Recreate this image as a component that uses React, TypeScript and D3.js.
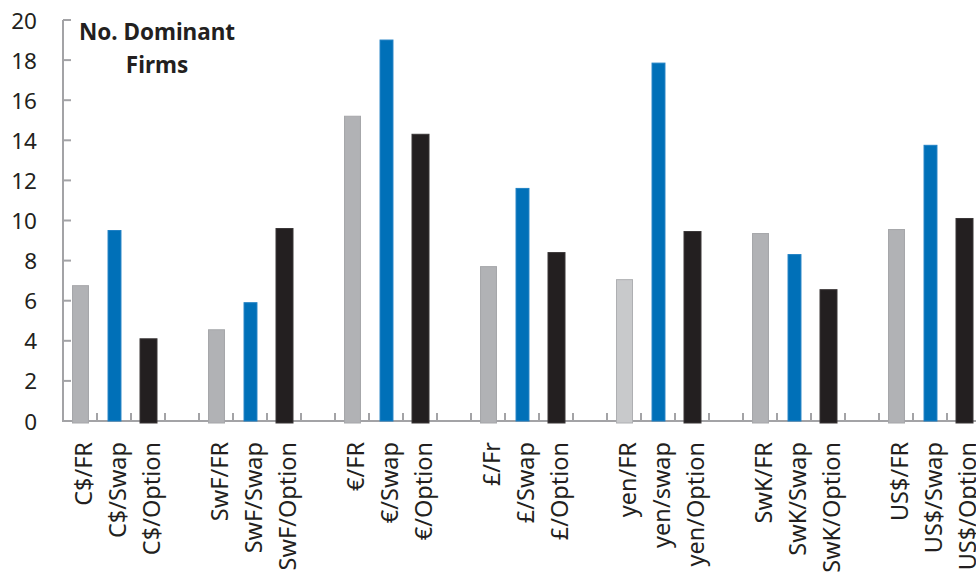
import React from 'react';
import * as d3 from 'd3';

const frLabels = ['C$/FR', 'SwF/FR', '€/FR', '£/Fr', 'yen/FR', 'SwK/FR', 'US$/FR'];
const swapLabels = ['C$/Swap', 'SwF/Swap', '€/Swap', '£/Swap', 'yen/swap', 'SwK/Swap', 'US$/Swap'];
const optionLabels = ['C$/Option', 'SwF/Option', '€/Option', '£/Option', 'yen/Option', 'SwK/Option', 'US$/Option'];
const frValues = [6.75, 4.55, 15.2, 7.7, 7.05, 9.35, 9.55];
const swapValues = [9.5, 5.9, 19.0, 11.6, 17.85, 8.3, 13.75];
const optionValues = [4.1, 9.6, 14.3, 8.4, 9.45, 6.55, 10.1];
const yTicks = [0, 2, 4, 6, 8, 10, 12, 14, 16, 18, 20];
const titleLines = ['No. Dominant', 'Firms'];

const W = 976;
const H = 573;
const FONT = "'Noto Sans', 'Open Sans', sans-serif";
const AXIS = '#a3a3a6';

type Slot = { key: string; label?: string; value?: number; series?: number; lightIdx?: boolean };

export default function App() {
  const slots: Slot[] = [];
  frLabels.forEach((_, g) => {
    slots.push({ key: `fr${g}`, label: frLabels[g], value: frValues[g], series: 0, lightIdx: frLabels[g] === 'yen/FR' });
    slots.push({ key: `sw${g}`, label: swapLabels[g], value: swapValues[g], series: 1 });
    slots.push({ key: `op${g}`, label: optionLabels[g], value: optionValues[g], series: 2 });
    if (g < frLabels.length - 1) slots.push({ key: `gap${g}` });
  });

  const x = d3.scaleBand<string>().domain(slots.map(s => s.key)).range([63, 981]).padding(0);
  const y = d3.scaleLinear().domain([0, 20]).range([421, 20]);
  const bw = x.bandwidth();
  const seriesStyle = [
    { fill: '#b1b2b5', stroke: '#a6a7aa', frac: 0.47, below: 2 },
    { fill: '#0070b8', stroke: '#1f80c4', frac: 0.38, below: 0 },
    { fill: '#231f20', stroke: '#3a3637', frac: 0.5, below: 2 },
  ];

  const boundaries = slots.slice(1).map(s => x(s.key)!);

  return (
    <svg width={W} height={H} style={{ position: 'absolute', left: 0, top: 0, background: '#fff' }} fontFamily={FONT}>
      {/* y axis */}
      <line x1={63} x2={63} y1={y(20)} y2={y(0) + 1} stroke={AXIS} strokeWidth={2} />
      {yTicks.map(t => (
        <g key={t}>
          <line x1={63} x2={71} y1={y(t)} y2={y(t)} stroke={AXIS} strokeWidth={2} />
          <text x={37} y={y(t)} textAnchor="end" dominantBaseline="central" fontSize={22.5} fill="#231f20">{t}</text>
        </g>
      ))}
      {/* x axis */}
      <line x1={62} x2={W} y1={y(0)} y2={y(0)} stroke={AXIS} strokeWidth={2} />
      {boundaries.map((bx, i) => (
        <line key={i} x1={bx} x2={bx} y1={y(0)} y2={y(0) - 8} stroke={AXIS} strokeWidth={2} />
      ))}
      {/* bars */}
      {slots.filter(s => s.value !== undefined).map(s => {
        const st = seriesStyle[s.series!];
        const w = bw * st.frac;
        const cx = x(s.key)! + bw / 2 + 0.5;
        const top = y(s.value!);
        return (
          <rect key={s.key} x={cx - w / 2} y={top} width={w} height={y(0) - top + st.below}
            fill={s.lightIdx ? '#c8c9cb' : st.fill} stroke={s.lightIdx ? '#aeafb2' : st.stroke} strokeWidth={1} />
        );
      })}
      {/* x labels */}
      {slots.filter(s => s.label).map(s => {
        const cx = x(s.key)! + bw / 2 + 3;
        return (
          <text key={s.key} transform={`translate(${cx},442) rotate(-90)`} textAnchor="end" dominantBaseline="central"
            fontSize={23.5} fill="#231f20">{s.label}</text>
        );
      })}
      {/* title */}
      {titleLines.map((t, i) => (
        <text key={i} x={157} y={40 + i * 33} textAnchor="middle" fontSize={22.5} fontWeight="bold" fill="#231f20">{t}</text>
      ))}
    </svg>
  );
}
